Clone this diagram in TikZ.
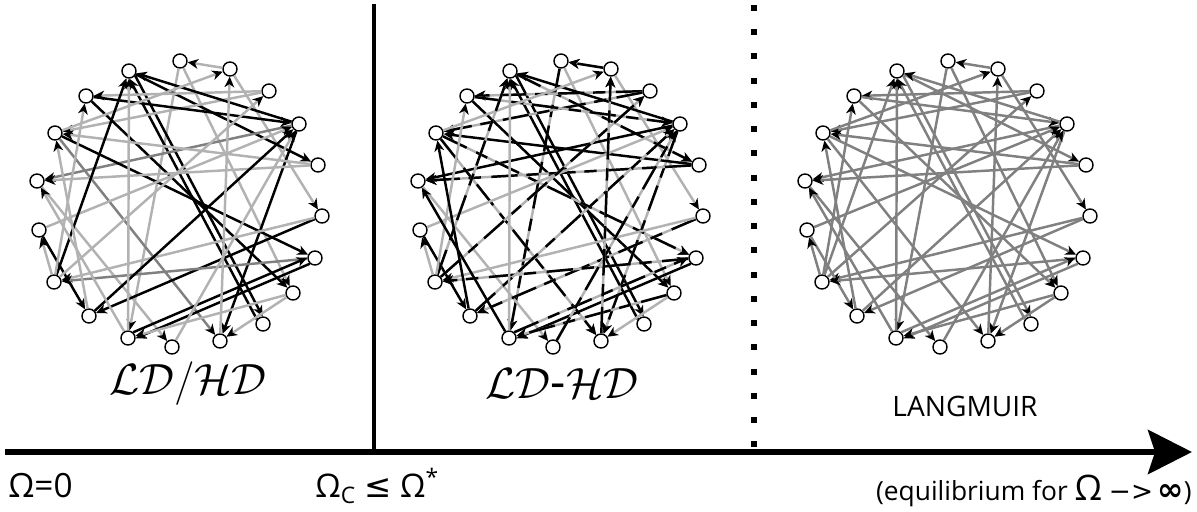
\documentclass[tikz,border=0pt]{standalone}
\usepackage{amsmath,amssymb}
\usepackage{fontspec}
\setmainfont{Open Sans}
\newfontfamily\symfont{DejaVu Sans}
\usetikzlibrary{arrows.meta}

\begin{document}
\begin{tikzpicture}[x=0.02cm,y=-0.02cm]
	\tikzset{vertex/.style={draw, circle, inner sep=0pt, minimum size=.28cm, fill=white, line width=.8pt},
		link/.style={line width=1.4pt, -{Stealth[length=6pt,width=5.5pt,inset=1.8pt,color=black]}},
		dark/.style={link, draw=black},
		lite/.style={link, draw=black!30},
		mid/.style={link, draw=black!50},
		mixed/.style={link, draw=black!30, postaction={draw=black, dash pattern=on 15pt off 6pt on 7pt off 5pt}}}
	\useasboundingbox (0,0) rectangle (1197,511);
	
	\foreach \g/\dx in {a/0,b/381,c/768}{
		\foreach \i/\x/\y in {1/180/61,2/230/69,3/129/71,4/269/91,5/86/96,6/299/124,7/55/133,8/318/165,9/37/181,10/322/216,11/39/230,12/315/258,13/54/282,14/293/293,15/89/316,16/263/324,17/128/338,18/172/347,19/220/341}{
			\node[vertex] (\g\i) at (\x+\dx,\y) {};
		}
	}
	\foreach \s/\t/\ca/\cb in {2/1/lite/mixed, 1/14/lite/lite, 1/17/lite/mixed, 2/10/lite/lite,
		3.-37/16.93/dark/dark, 16.143/3.-87/dark/dark, 3/8/dark/mixed, 4/5/lite/mixed,
		4/7/lite/mixed, 5/6/dark/mixed, 5/14/dark/dark, 6/3/dark/dark, 6/19/dark/mixed,
		6/9/mid/dark, 7/12/dark/mixed, 7/2/lite/lite, 7/19/mid/mixed, 8/9/lite/mixed,
		8/7/lite/dark, 9/18/lite/lite, 10/15/dark/mixed, 10/13/lite/lite, 11/15/dark/dark,
		11/6/lite/lite, 12/13/mid/mixed, 12.228/17.-2/dark/dark, 17.48/12.178/dark/mixed,
		13/3/dark/mixed, 13/11/lite/lite, 13/5/lite/lite, 13/4/lite/mixed, 14/19/lite/lite,
		14/17/lite/mixed, 15/6/dark/mixed, 15/7/lite/dark, 17/9/lite/dark, 17/3/lite/lite,
		18/6/lite/mixed, 19/2/lite/mixed}{
		\draw[\ca] (a\s) -- (a\t);
		\draw[\cb] (b\s) -- (b\t);
		\draw[mid] (c\s) -- (c\t);
	}
	
	\coordinate (start) at (5,452);
	\coordinate (end) at (1192,452);
	\coordinate (crit) at (374,4);
	\coordinate (lang) at (754,5);
	\draw[line width=3.8pt, -{Stealth[length=25pt,width=25pt,inset=4pt]}] (start) -- (end);
	\draw[line width=2.3pt] (crit) -- (crit |- start);
	\draw[line width=3.4pt, dash pattern=on 3.4pt off 10.4pt] (lang) -- (lang |- start);
	
	\node[font=\fontsize{27}{31}\selectfont] (ldhd) at (188,384) {$\mathcal{LD}/\mathcal{HD}$};
	\node[font=\fontsize{27}{31}\selectfont] (mixhd) at (562,384) {$\mathcal{LD}$-$\mathcal{HD}$};
	\node[font=\fontsize{16}{19}\selectfont, anchor=base] (langm) at (965,416) {LANGMUIR};
	\node[font=\fontsize{19}{22}\selectfont, anchor=base west, inner sep=0pt] (zero) at (8,497) {Ω=0};
	\node[font=\fontsize{18.5}{22}\selectfont, anchor=base west, inner sep=0pt] (omc) at (315,497) {Ω\textsubscript{C} {\symfont≤} Ω\textsuperscript{*}};
	\node[font=\fontsize{15}{18}\selectfont, anchor=base east, inner sep=0pt] (equil) at (1192,500) {(equilibrium for {\fontsize{20}{23}\selectfont Ω} {\symfont−>}\,{\fontsize{18}{20}\symfont\bfseries∞})};
\end{tikzpicture}
\end{document}
